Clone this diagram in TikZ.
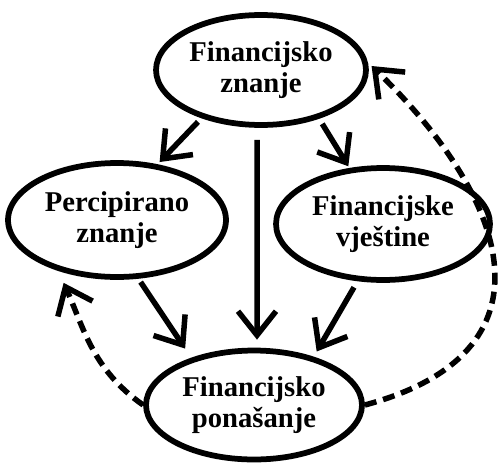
\documentclass[tikz,border=0pt]{standalone}
\usepackage{fontspec}
\setmainfont{Liberation Serif}
\usetikzlibrary{arrows.meta,shapes.geometric}
\begin{document}
\begin{tikzpicture}[x=0.02cm,y=-0.02cm,
  oval/.style={ellipse,draw,line width=0.115cm,inner sep=0pt,align=center,
    font=\fontsize{16.3}{17.8}\selectfont\bfseries},
  conn/.style={line width=0.11cm,-{Straight Barb[length=0.48cm,width=0.76cm]}},
  dashconn/.style={conn,dash pattern=on 0.24cm off 0.14cm}]
\useasboundingbox (0,0) rectangle (502,466);
\node[oval,minimum width=4.2cm,minimum height=2.2cm] (top) at (261,70) {Financijsko\\znanje};
\node[oval,minimum width=4.36cm,minimum height=2.28cm] (left) at (117,220) {Percipirano\\znanje};
\node[oval,minimum width=4.28cm,minimum height=2.24cm] (right) at (383,224) {Financijske\\vještine};
\node[oval,minimum width=4.32cm,minimum height=2.18cm] (bot) at (254,405) {Financijsko\\ponašanje};
\draw[conn,shorten <=0.1cm,shorten >=0.06cm] (top.219) -- (left.54);
\draw[conn,shorten <=0.12cm,shorten >=0.04cm] (top.320) -- (right.121);
\draw[conn,shorten <=0.24cm,shorten >=0.16cm] ([xshift=-0.08cm]top.south) -- ([xshift=0.06cm]bot.north);
\draw[conn,shorten <=0.08cm,shorten >=0.22cm] (left.290) -- (bot.143);
\draw[conn,shorten <=0.14cm,shorten >=0.12cm] (right.246) -- (bot.39);
\draw[dashconn,shorten >=0.26cm] (bot.west) to[out=145,in=294] (left.221);
\draw[dashconn,shorten >=0.1cm] (bot.east) to[out=15,in=-44,looseness=1.5] (top.4);
\end{tikzpicture}
\end{document}
